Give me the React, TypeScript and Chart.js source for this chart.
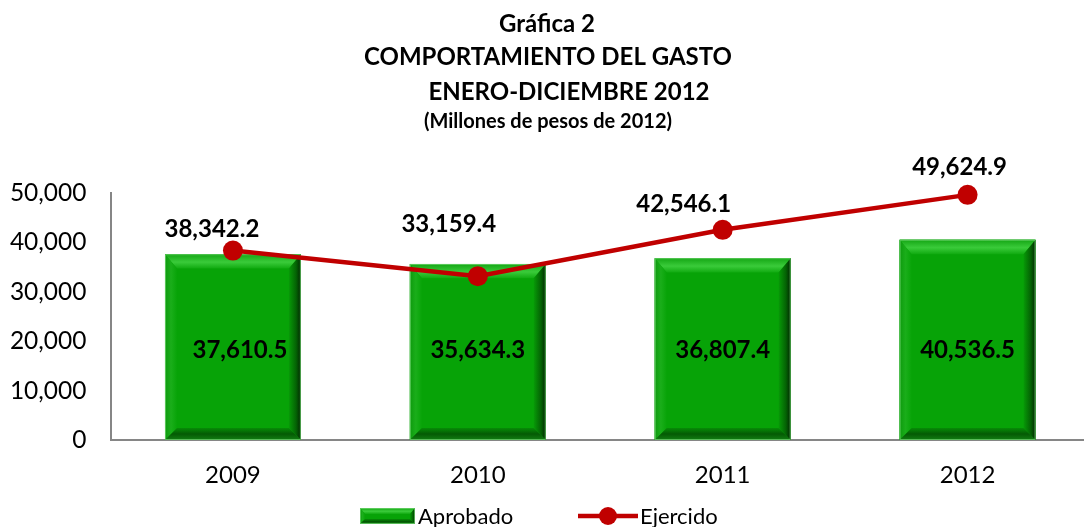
import React, { useEffect, useRef } from "react";
import { Chart, registerables } from "chart.js";

Chart.register(...registerables);

// ---------- data ----------
const categories = ["2009", "2010", "2011", "2012"];
const aprobado = [37610.5, 35634.3, 36807.4, 40536.5];
const ejercido = [38342.2, 33159.4, 42546.1, 49624.9];
const yTickValues = [0, 10000, 20000, 30000, 40000, 50000];
const seriesNames = ["Aprobado", "Ejercido"];
const titleLines = ["Gráfica 2", "COMPORTAMIENTO DEL GASTO", "ENERO-DICIEMBRE 2012"];
const subtitle = "(Millones de pesos de 2012)";

// ---------- style ----------
const FONT = "Lato, 'Open Sans', sans-serif";
const RED = "#C00000";
const FACE = "#07A307";
const AXIS = "#868686";
// label placement, as in the original
const LINE_LABEL_OFFSETS = [
  [-21, -21],
  [-29, -52],
  [-39, -26],
  [-8, -28],
];
const BAR_LABEL_DX = [7, 0, 0, 0];
const BAR_LABEL_LEVEL = 18200; // bar labels sit on a common level

const fmt1 = (v: number) =>
  v.toLocaleString("en-US", { minimumFractionDigits: 1, maximumFractionDigits: 1 });

function poly(ctx: CanvasRenderingContext2D, pts: number[][], fill: any) {
  ctx.beginPath();
  ctx.moveTo(pts[0][0], pts[0][1]);
  for (let i = 1; i < pts.length; i++) ctx.lineTo(pts[i][0], pts[i][1]);
  ctx.closePath();
  ctx.fillStyle = fill;
  ctx.fill();
}

function bevelRect(ctx: CanvasRenderingContext2D, l: number, t: number, r: number, b: number, s: number) {
  ctx.save();
  ctx.fillStyle = FACE;
  ctx.fillRect(l, t, r - l, b - t);
  const st = s * 1.2;
  let g = ctx.createLinearGradient(0, t, 0, t + st);
  g.addColorStop(0, "#14A614");
  g.addColorStop(0.55, "#3ACB3A");
  g.addColorStop(1, "#10AA10");
  poly(ctx, [[l, t], [r, t], [r - s, t + st], [l + s, t + st]], g);
  g = ctx.createLinearGradient(l, 0, l + s, 0);
  g.addColorStop(0, "#0E9A0E");
  g.addColorStop(0.5, "#1AAE1A");
  g.addColorStop(1, "#08A408");
  poly(ctx, [[l, t], [l + s, t + st], [l + s, b - s], [l, b]], g);
  g = ctx.createLinearGradient(r - s, 0, r, 0);
  g.addColorStop(0, "#079A07");
  g.addColorStop(0.6, "#046304");
  g.addColorStop(1, "#012801");
  poly(ctx, [[r, t], [r, b], [r - s, b - s], [r - s, t + st]], g);
  g = ctx.createLinearGradient(0, b - s, 0, b);
  g.addColorStop(0, "#078C07");
  g.addColorStop(0.5, "#045A04");
  g.addColorStop(1, "#127E12");
  poly(ctx, [[l, b], [l + s, b - s], [r - s, b - s], [r, b]], g);
  ctx.strokeStyle = "rgba(120,215,120,0.7)";
  ctx.lineWidth = 1;
  ctx.strokeRect(l + 0.5, t + 0.5, r - l - 1, b - t - 1);
  ctx.restore();
}

const bevelPlugin = {
  id: "bevelBars",
  afterDatasetDraw(chart: any, args: any) {
    if (chart.data.datasets[args.index].type !== "bar") return;
    const ctx = chart.ctx;
    const meta = chart.getDatasetMeta(args.index);
    meta.data.forEach((el: any) => {
      const p = el.getProps(["x", "y", "base", "width"], true);
      const l = p.x - p.width / 2;
      const r = p.x + p.width / 2;
      bevelRect(ctx, l, p.y, r, p.base, 12);
    });
  },
};

const labelsPlugin = {
  id: "valueLabels",
  afterDatasetsDraw(chart: any) {
    const ctx = chart.ctx;
    const yScale = chart.scales.y;
    ctx.save();
    ctx.fillStyle = "#000";
    ctx.font = `bold 24px ${FONT}`;
    ctx.textAlign = "center";
    ctx.textBaseline = "middle";
    chart.data.datasets.forEach((ds: any, di: number) => {
      const meta = chart.getDatasetMeta(di);
      meta.data.forEach((el: any, i: number) => {
        const v = ds.data[i];
        if (ds.type === "bar") {
          ctx.fillText(fmt1(v), el.x + BAR_LABEL_DX[i], yScale.getPixelForValue(BAR_LABEL_LEVEL));
        } else {
          const o = LINE_LABEL_OFFSETS[i];
          ctx.fillText(fmt1(v), el.x + o[0], el.y + o[1]);
        }
      });
    });
    ctx.restore();
  },
};

const titlePlugin = {
  id: "titleBlock",
  afterDraw(chart: any) {
    const ctx = chart.ctx;
    ctx.save();
    ctx.fillStyle = "#000";
    ctx.textAlign = "center";
    ctx.textBaseline = "alphabetic";
    const xs = [547, 548, 569];
    const ys = [32, 65, 100];
    ctx.font = `bold 24px ${FONT}`;
    titleLines.forEach((t, i) => ctx.fillText(t, xs[i], ys[i]));
    ctx.font = `bold 20px ${FONT}`;
    ctx.fillText(subtitle, 548, 128);
    ctx.restore();
  },
};

const legendPlugin = {
  id: "bottomLegend",
  afterDraw(chart: any) {
    const ctx = chart.ctx;
    ctx.save();
    const cy = 516;
    let x = 360;
    bevelRect(ctx, x, cy - 8, x + 55, cy + 8, 5);
    x += 58;
    ctx.font = `22px ${FONT}`;
    ctx.fillStyle = "#000";
    ctx.textBaseline = "middle";
    ctx.textAlign = "left";
    ctx.fillText(seriesNames[0], x, cy + 1);
    x = 578;
    ctx.strokeStyle = RED;
    ctx.lineWidth = 4.5;
    ctx.beginPath();
    ctx.moveTo(x, cy);
    ctx.lineTo(x + 60, cy);
    ctx.stroke();
    ctx.fillStyle = RED;
    ctx.beginPath();
    ctx.arc(x + 30, cy, 9, 0, Math.PI * 2);
    ctx.fill();
    ctx.fillStyle = "#000";
    ctx.fillText(seriesNames[1], x + 62, cy + 1);
    ctx.restore();
  },
};

export default function App() {
  const ref = useRef<HTMLCanvasElement | null>(null);
  useEffect(() => {
    if (!ref.current) return;
    const chart = new Chart(ref.current, {
      data: {
        labels: categories,
        datasets: [
          {
            type: "line",
            label: seriesNames[1],
            data: ejercido,
            borderColor: RED,
            backgroundColor: RED,
            borderWidth: 4.5,
            pointRadius: 10,
            pointHoverRadius: 10,
            pointBackgroundColor: RED,
            pointBorderWidth: 0,
            clip: false,
            order: 0,
          } as any,
          {
            type: "bar",
            label: seriesNames[0],
            data: aprobado,
            backgroundColor: FACE,
            categoryPercentage: 1,
            barPercentage: 0.555,
            order: 1,
          } as any,
        ],
      },
      options: {
        responsive: false,
        animation: false,
        events: [],
        layout: { padding: { top: 193, right: 8, bottom: 0, left: 0 } },
        plugins: {
          legend: { display: false },
          title: { display: false },
          tooltip: { enabled: false },
        },
        scales: {
          x: {
            offset: true,
            grid: { display: false, drawTicks: false },
            border: { display: true, color: AXIS, width: 2 },
            ticks: { color: "#000", font: { family: FONT, size: 24 }, padding: 21 },
            afterFit: (s: any) => {
              s.height = 87;
            },
          },
          y: {
            min: 0,
            max: 50000,
            grid: { display: false, drawTicks: false },
            border: { display: true, color: AXIS, width: 2 },
            afterBuildTicks: (s: any) => {
              s.ticks = yTickValues.map((v) => ({ value: v }));
            },
            afterFit: (s: any) => {
              s.width = 110.5;
            },
            ticks: {
              color: "#000",
              font: { family: FONT, size: 24.5 },
              padding: 24,
              callback: (v: any) => Number(v).toLocaleString("en-US"),
            },
          },
        },
      },
      plugins: [bevelPlugin, labelsPlugin, titlePlugin, legendPlugin],
    } as any);
    return () => chart.destroy();
  }, []);
  return (
    <div
      style={{
        position: "fixed",
        left: 0,
        top: 0,
        width: 1084,
        height: 527,
        overflow: "hidden",
        background: "#fff",
      }}
    >
      <canvas ref={ref} width={1100} height={527} style={{ display: "block" }} />
    </div>
  );
}
